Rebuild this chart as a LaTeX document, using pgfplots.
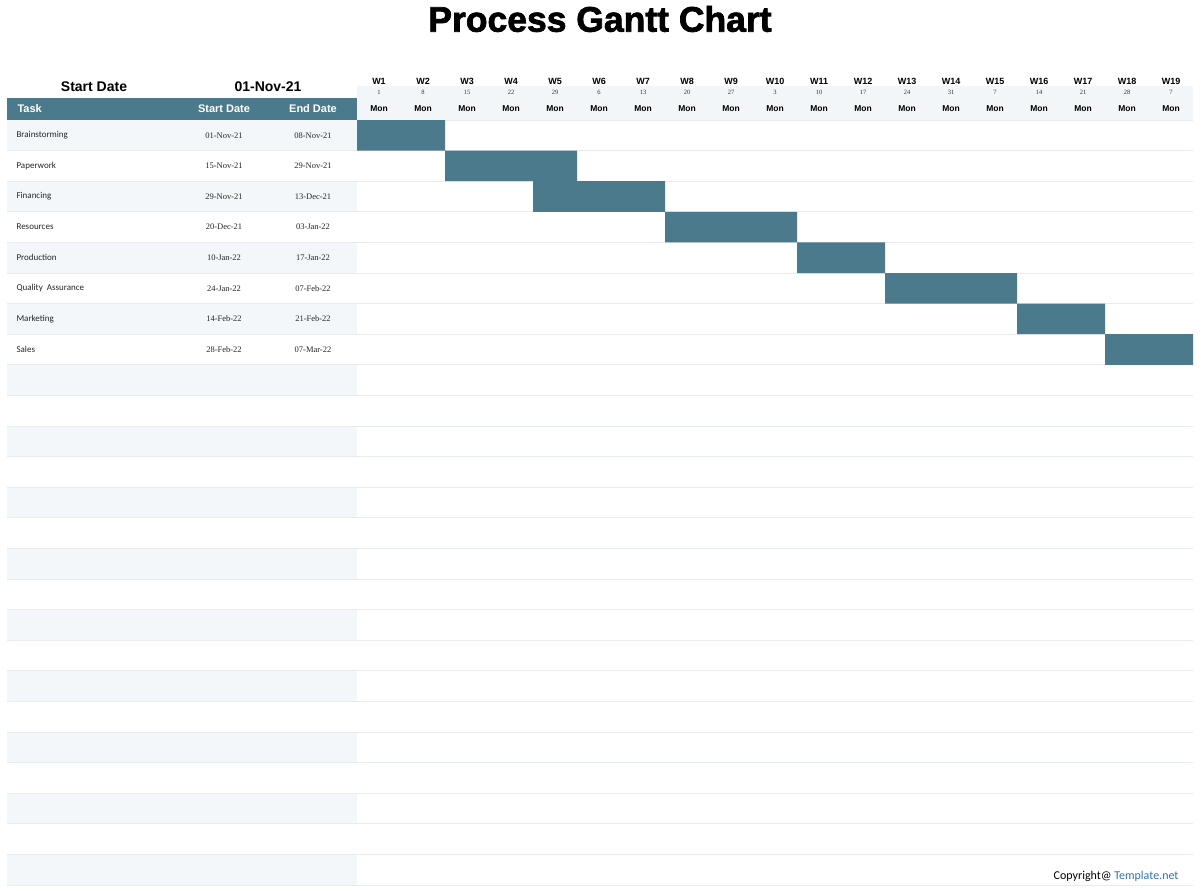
\documentclass[border=0pt]{standalone}
\usepackage{fontspec}
\setmainfont{Liberation Sans}
\newfontfamily\calfont{Carlito}
\newfontfamily\serfont{Liberation Serif}
\newfontfamily\heavyfont{Liberation Sans}[BoldFeatures={FakeBold=2}]
\usepackage{pgfplots}
\pgfplotsset{compat=1.18}
\usepackage{pgfplotstable}

\definecolor{ganttteal}{RGB}{75,122,140}
\definecolor{rowshade}{RGB}{243,247,250}
\definecolor{headband}{RGB}{243,246,249}
\definecolor{gridline}{RGB}{233,236,239}
\definecolor{linkblue}{RGB}{46,116,181}

% Task rows: row centre, start (days after 01-Nov-21), length in days (whole weeks shown)
\pgfplotstableread{
row  start span
0.5  0     14
1.5  14    21
2.5  28    21
3.5  49    21
4.5  70    14
5.5  84    21
6.5  105   14
7.5  119   14
}\tasks

\newcommand{\rowh}{30.6}

\begin{document}
\begin{tikzpicture}[x=1pt, y=-1pt]
  % page
  \fill[white] (0,0) rectangle (1200,893);

  % title
  \node[font=\heavyfont\bfseries\fontsize{35.5}{40}\selectfont] at (600,19) {Process Gantt Chart};

  % project start
  \node[font=\bfseries\fontsize{14}{16}\selectfont] at (94,87) {Start Date};
  \node[font=\bfseries\fontsize{14}{16}\selectfont] at (268,87) {01-Nov-21};

  % table shading and separators
  \foreach \r in {0,2,...,24}
    \fill[rowshade] (7,{120+\r*\rowh}) rectangle (357,{120+(\r+1)*\rowh});
  \foreach \r in {1,...,25}
    \draw[gridline, line width=0.8pt] (7,{120+\r*\rowh}) -- (357,{120+\r*\rowh});

  % table header
  \fill[ganttteal] (7,98) rectangle (357,120);
  \node[anchor=west, text=white, font=\bfseries\fontsize{11}{13}\selectfont] at (14,109) {Task};
  \node[text=white, font=\bfseries\fontsize{11}{13}\selectfont] at (224,109) {Start Date};
  \node[text=white, font=\bfseries\fontsize{11}{13}\selectfont] at (313,109) {End Date};

  % week header
  \fill[headband] (357,86) rectangle (1193,120);
  \foreach \i/\d in {1/1,2/8,3/15,4/22,5/29,6/6,7/13,8/20,9/27,10/3,11/10,12/17,13/24,14/31,15/7,16/14,17/21,18/28,19/7}{
    \pgfmathsetmacro{\cx}{379+44*(\i-1)}
    \node[font=\bfseries\fontsize{9}{10}\selectfont] at (\cx,81) {W\i};
    \node[font=\serfont\fontsize{6.5}{7}\selectfont, text=black!80] at (\cx,92) {\d};
    \node[font=\bfseries\fontsize{8.5}{10}\selectfont] at (\cx,109) {Mon};
  }

  % task list
  \foreach \k/\t/\s/\e in {0/Brainstorming/01-Nov-21/08-Nov-21,
                           1/Paperwork/15-Nov-21/29-Nov-21,
                           2/Financing/29-Nov-21/13-Dec-21,
                           3/Resources/20-Dec-21/03-Jan-22,
                           4/Production/10-Jan-22/17-Jan-22,
                           5/Quality\ \ Assurance/24-Jan-22/07-Feb-22,
                           6/Marketing/14-Feb-22/21-Feb-22,
                           7/Sales/28-Feb-22/07-Mar-22}{
    \pgfmathsetmacro{\cy}{120+\rowh*(\k+0.5)}
    \node[anchor=west, font=\calfont\fontsize{9}{10}\selectfont, text=black!85] at (13,\cy) {\t};
    \node[font=\serfont\fontsize{8.5}{10}\selectfont, text=black!85] at (224,\cy) {\s};
    \node[font=\serfont\fontsize{8.5}{10}\selectfont, text=black!85] at (313,\cy) {\e};
  }

  % timeline
  \begin{axis}[
      at={(357pt,-120pt)}, anchor=north west,
      scale only axis, width=836pt, height=765pt,
      xmin=0, xmax=133, ymin=0, ymax=25,
      y dir=reverse,
      xbar stacked, bar width=1,
      axis line style={draw=none},
      xtick=\empty,
      ytick={0,...,25}, yticklabels={},
      major tick length=0pt,
      ymajorgrids, grid style={gridline, line width=0.8pt},
    ]
    \addplot[draw=none, fill=none] table[x=start, y=row] {\tasks};
    \addplot[draw=none, fill=ganttteal] table[x=span, y=row] {\tasks};
  \end{axis}

  % footer
  \node[anchor=base east, font=\calfont\fontsize{12}{14}\selectfont] at (1182,879)
    {Copyright@ \textcolor{linkblue}{Template.net}};
\end{tikzpicture}
\end{document}
